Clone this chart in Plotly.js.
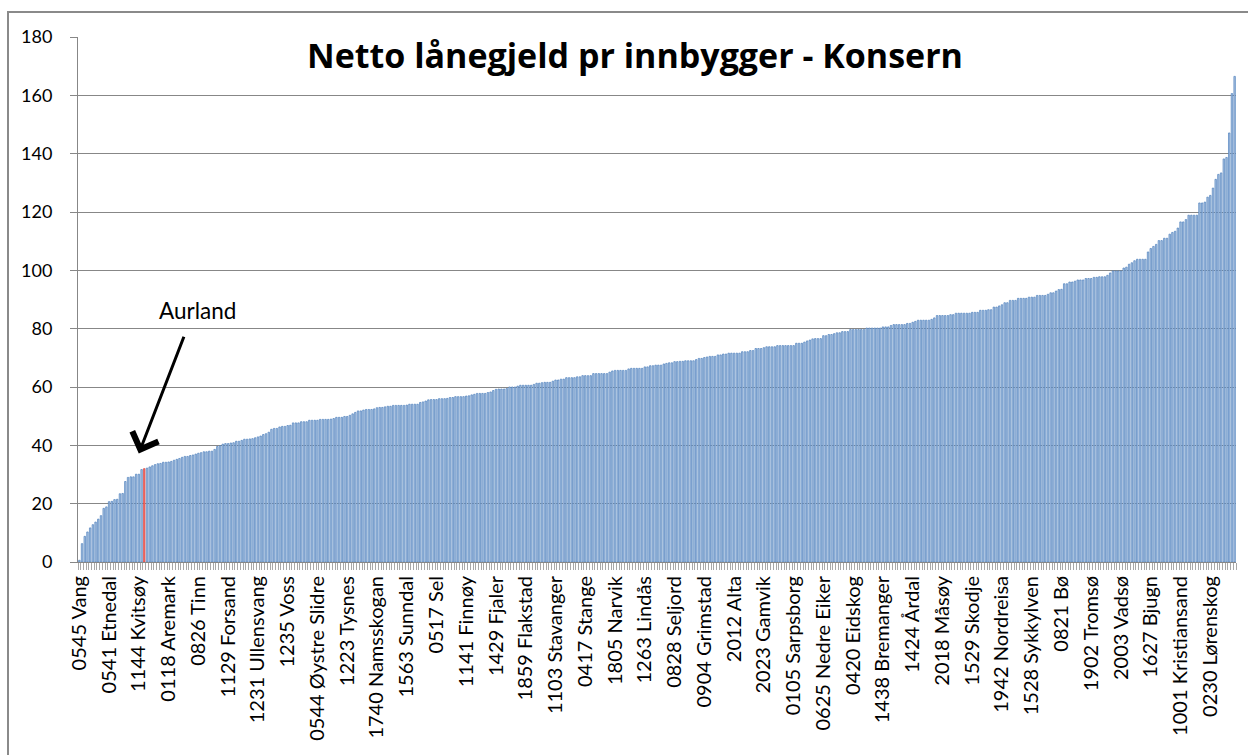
<!DOCTYPE html>
<html><head><meta charset="utf-8">
<script src="https://cdn.plot.ly/plotly-3.0.1.min.js"></script>
<style>
html,body{margin:0;padding:0;background:#fff;}
#wrap{position:relative;width:1248px;height:755px;overflow:hidden;}
#chart{width:1248px;height:755px;}
#frame{position:absolute;left:7px;top:11px;width:1250px;height:760px;border:2px solid #8a8a8a;pointer-events:none;box-sizing:border-box;}
</style>
</head><body><div id="wrap"><div id="chart"></div><div id="frame"></div></div>
<script>
// Netto lånegjeld pr innbygger (1000 kr), sorted ascending, one bar per kommune
const values = [
0.6, 6.3, 8.8, 10.3, 11.7, 12.8, 13.7, 14.7, 15.9, 18.4,
18.9, 20.7, 20.8, 21.4, 21.5, 23.4, 23.5, 27.6, 29.0, 29.2,
29.2, 30.1, 30.1, 31.7, 32.0, 32.2, 32.6, 33.0, 33.4, 33.7,
33.8, 34.2, 34.2, 34.3, 34.5, 34.9, 35.2, 35.5, 35.9, 36.2,
36.2, 36.5, 36.7, 37.0, 37.3, 37.5, 37.8, 37.8, 38.0, 38.0,
38.6, 39.6, 39.9, 40.4, 40.6, 40.6, 40.8, 40.9, 41.4, 41.4,
41.7, 42.1, 42.1, 42.2, 42.3, 42.6, 42.9, 43.2, 43.7, 44.0,
44.5, 45.5, 45.8, 45.8, 46.3, 46.5, 46.5, 46.8, 46.9, 47.7,
47.7, 47.7, 48.1, 48.1, 48.1, 48.6, 48.6, 48.6, 48.6, 48.9,
48.9, 48.9, 48.9, 49.0, 49.2, 49.6, 49.6, 49.6, 49.9, 49.9,
50.3, 50.8, 51.3, 51.8, 51.8, 52.1, 52.3, 52.3, 52.3, 52.5,
52.9, 53.0, 53.0, 53.2, 53.4, 53.4, 53.7, 53.7, 53.7, 53.7,
53.7, 53.8, 54.1, 54.1, 54.1, 54.1, 54.7, 54.9, 55.2, 55.6,
55.7, 55.7, 55.7, 56.0, 56.0, 56.0, 56.1, 56.4, 56.4, 56.7,
56.7, 56.7, 56.7, 56.9, 57.0, 57.3, 57.5, 57.8, 57.8, 57.8,
57.8, 58.1, 58.3, 58.8, 59.2, 59.3, 59.3, 59.3, 59.5, 60.0,
60.0, 60.0, 60.3, 60.6, 60.6, 60.6, 60.6, 60.6, 60.9, 61.3,
61.3, 61.5, 61.6, 61.6, 61.6, 62.0, 62.4, 62.4, 62.7, 62.7,
63.2, 63.2, 63.2, 63.2, 63.5, 63.5, 63.9, 63.9, 63.9, 63.9,
64.6, 64.6, 64.6, 64.6, 64.6, 64.6, 65.1, 65.5, 65.7, 65.7,
65.7, 65.7, 65.7, 66.2, 66.4, 66.4, 66.4, 66.4, 66.4, 66.9,
66.9, 67.3, 67.3, 67.5, 67.5, 67.5, 67.9, 68.1, 68.3, 68.3,
68.7, 68.7, 68.8, 68.8, 69.0, 69.0, 69.0, 69.0, 69.4, 69.8,
69.8, 70.1, 70.3, 70.5, 70.5, 70.5, 71.0, 71.0, 71.3, 71.3,
71.6, 71.6, 71.6, 71.6, 71.6, 72.1, 72.1, 72.1, 72.5, 72.5,
73.2, 73.2, 73.2, 73.5, 73.8, 73.8, 73.8, 73.8, 74.2, 74.2,
74.2, 74.2, 74.2, 74.2, 74.2, 75.0, 75.0, 75.0, 75.4, 75.8,
76.1, 76.5, 76.6, 76.6, 76.6, 77.6, 77.6, 78.0, 78.0, 78.3,
78.6, 78.6, 79.0, 79.0, 79.0, 79.7, 79.7, 79.7, 79.7, 79.7,
79.7, 80.2, 80.2, 80.2, 80.2, 80.2, 80.2, 80.6, 80.6, 80.6,
81.1, 81.4, 81.4, 81.4, 81.4, 81.4, 81.8, 81.8, 82.2, 82.5,
82.9, 82.9, 82.9, 82.9, 82.9, 83.2, 83.7, 84.5, 84.5, 84.5,
84.5, 84.5, 84.8, 84.8, 85.3, 85.3, 85.3, 85.3, 85.3, 85.3,
85.6, 85.6, 85.6, 86.3, 86.3, 86.3, 86.5, 86.5, 87.4, 87.4,
87.8, 88.2, 88.9, 88.9, 89.7, 89.7, 89.7, 90.4, 90.4, 90.4,
90.4, 90.8, 90.8, 90.8, 91.4, 91.4, 91.4, 91.4, 91.8, 92.3,
92.3, 92.9, 93.4, 93.5, 95.4, 95.4, 96.0, 96.0, 96.3, 96.7,
96.7, 96.7, 97.2, 97.2, 97.2, 97.6, 97.6, 97.8, 97.8, 97.8,
98.3, 99.1, 99.8, 99.8, 99.8, 99.8, 100.8, 101.1, 102.1, 102.6,
103.3, 103.8, 103.8, 103.8, 103.8, 106.3, 107.5, 108.2, 108.9, 110.2,
110.2, 111.0, 111.0, 112.4, 113.0, 113.4, 114.5, 116.6, 116.6, 117.4,
118.9, 118.9, 118.9, 118.9, 123.1, 123.1, 123.4, 125.1, 125.7, 128.2,
131.2, 132.9, 133.4, 138.2, 138.7, 147.1, 160.6, 166.5
];

// every 11th kommune is labelled on the axis
const labelNames = [
'0545 Vang','0541 Etnedal','1144 Kvitsøy','0118 Aremark','0826 Tinn','1129 Forsand',
'1231 Ullensvang','1235 Voss','0544 Øystre Slidre','1223 Tysnes','1740 Namsskogan',
'1563 Sunndal','0517 Sel','1141 Finnøy','1429 Fjaler','1859 Flakstad','1103 Stavanger',
'0417 Stange','1805 Narvik','1263 Lindås','0828 Seljord','0904 Grimstad','2012 Alta',
'2023 Gamvik','0105 Sarpsborg','0625 Nedre Eiker','0420 Eidskog','1438 Bremanger',
'1424 Årdal','2018 Måsøy','1529 Skodje','1942 Nordreisa','1528 Sykkylven','0821 Bø',
'1902 Tromsø','2003 Vadsø','1627 Bjugn','1001 Kristiansand','0230 Lørenskog'
];
const labelStep = 11;
const highlightIndex = 24;      // Aurland
const highlightName = 'Aurland';
const yTicks = [0, 20, 40, 60, 80, 100, 120, 140, 160, 180];
const titleText = 'Netto lånegjeld pr innbygger - Konsern';

const xIdx = values.map((v, i) => i);
const tickIdx = labelNames.map((n, k) => k * labelStep);
const fillColors = values.map((v, i) => i === highlightIndex ? '#EE7773' : '#AFC6E3');
const lineColors = values.map((v, i) => i === highlightIndex ? '#E0403A' : '#4F81BD');

const FONT = 'Lato, "Open Sans", sans-serif';
const GRID = '#878787';

const trace = {
  type: 'bar',
  x: xIdx,
  y: values,
  marker: {color: fillColors, line: {color: lineColors, width: 0.7}},
  hoverinfo: 'y'
};

const layout = {
  width: 1248, height: 755,
  margin: {l: 77.5, r: 12, t: 36.7, b: 193.3, pad: 0},
  paper_bgcolor: '#fff', plot_bgcolor: '#fff',
  showlegend: false,
  bargap: 0.45,
  font: {family: FONT, color: '#000'},
  title: {
    text: titleText,
    font: {family: '"Open Sans", Lato, sans-serif', size: 34, weight: 700, color: '#000'},
    xref: 'container', x: 635 / 1248, xanchor: 'center',
    yref: 'container', y: 1 - 56 / 755, yanchor: 'middle'
  },
  xaxis: {
    type: 'linear',
    range: [-0.5, values.length - 0.5],
    tickmode: 'array', tickvals: tickIdx, ticktext: labelNames,
    tickangle: -90, ticks: '', ticklabelstandoff: 5,
    tickfont: {family: FONT, size: 20, color: '#000'},
    showgrid: false, zeroline: false,
    showline: true, linecolor: GRID, linewidth: 1,
    minor: {tick0: -0.5, dtick: 1, ticks: 'outside', ticklen: 7, tickwidth: 1, tickcolor: '#a8a8a8', showgrid: false},
    fixedrange: true
  },
  yaxis: {
    range: [0, 180],
    tickmode: 'array', tickvals: yTicks,
    ticks: 'outside', ticklen: 7, tickcolor: GRID, tickwidth: 1,
    ticklabelstandoff: 14,
    tickfont: {family: FONT, size: 18, color: '#000'},
    showgrid: true, gridcolor: GRID, gridwidth: 1,
    zeroline: true, zerolinecolor: GRID, zerolinewidth: 1,
    showline: true, linecolor: GRID, linewidth: 1,
    fixedrange: true
  },
  annotations: [
    {
      x: 43.6, y: 86.3, xref: 'x', yref: 'y',
      text: highlightName, showarrow: false,
      font: {family: FONT, size: 22.5, color: '#000'},
      xanchor: 'center', yanchor: 'middle'
    },
    {
      x: 21.96, y: 37.2, xref: 'x', yref: 'y',
      ax: 45.7, ay: -118.3, axref: 'pixel', ayref: 'pixel',
      text: '', showarrow: true,
      arrowhead: 4, arrowsize: 1.8, arrowwidth: 3, arrowcolor: '#000',
      standoff: 0, startstandoff: 0
    }
  ]
};

Plotly.newPlot('chart', [trace], layout, {staticPlot: true, displayModeBar: false});
</script>
</body></html>
